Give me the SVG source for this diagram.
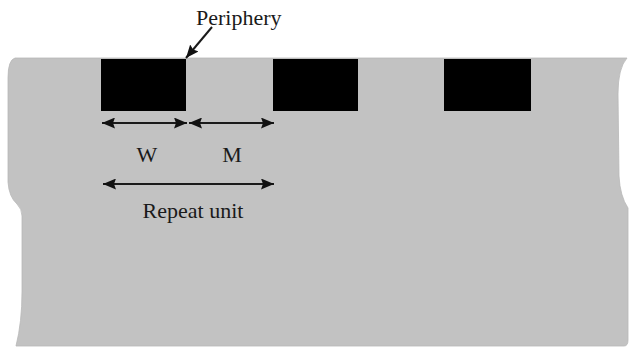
<svg xmlns="http://www.w3.org/2000/svg" width="630" height="348" viewBox="0 0 630 348">
  <defs>
    <marker id="head" viewBox="0 0 13 11" refX="13" refY="5.5" markerWidth="13" markerHeight="11" markerUnits="userSpaceOnUse" orient="auto-start-reverse">
      <path d="M0,0 L13,5.5 L0,11 L2,5.5 Z" fill="#111"/>
    </marker>
  </defs>
  <style>
    .lbl { font-family: "Liberation Serif", "Times New Roman", serif; font-size: 22px; fill: #1a1a1a; }
    .dim { stroke: #1a1a1a; stroke-width: 2; fill: none; marker-start: url(#head); marker-end: url(#head); }
    .pad { fill: #000; }
  </style>
  <rect width="630" height="348" fill="#fff"/>

  <!-- substrate -->
  <g id="substrate">
    <path d="M 15 58 L 627 58 Q 618 68 618 94 L 619 176 Q 620 196 628 208 L 628 340 Q 628 346 624 346 L 16 346 Q 22 322 22 292 L 22 216 Q 22 209 17 204 Q 9 197 8 182 L 8 78 Q 8 60 15 58 Z" fill="#c2c2c2" stroke="#b8b8b8" stroke-width="0.8"/>
  </g>

  <!-- metal pads -->
  <g id="pad1"><rect class="pad" x="101" y="59" width="85" height="52"/></g>
  <g id="pad2"><rect class="pad" x="273" y="59" width="85" height="52"/></g>
  <g id="pad3"><rect class="pad" x="444" y="59" width="87" height="52"/></g>

  <!-- dimension arrows and pointer -->
  <g id="connectors">
    <line class="dim" x1="102" y1="123" x2="187" y2="123"/>
    <line class="dim" x1="189" y1="123" x2="274" y2="123"/>
    <line class="dim" x1="103" y1="184" x2="274" y2="184"/>
    <line x1="212" y1="27" x2="186" y2="58" stroke="#1a1a1a" stroke-width="2" marker-end="url(#head)"/>
  </g>

  <!-- labels -->
  <g id="label-periphery"><text class="lbl" x="196" y="25">Periphery</text></g>
  <g id="label-w"><text class="lbl" x="147" y="162" text-anchor="middle">W</text></g>
  <g id="label-m"><text class="lbl" x="232" y="162" text-anchor="middle">M</text></g>
  <g id="label-repeat"><text class="lbl" x="193" y="218" text-anchor="middle">Repeat unit</text></g>
</svg>
